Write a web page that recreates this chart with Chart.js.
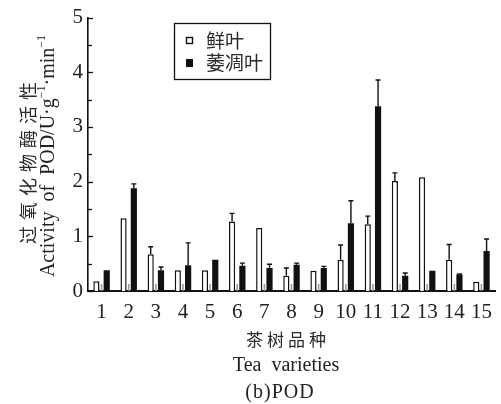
<!DOCTYPE html>
<html><head><meta charset="utf-8">
<script src="https://cdn.jsdelivr.net/npm/chart.js@4/dist/chart.umd.min.js"></script>
<style>html,body{margin:0;padding:0;background:#fff;} #wrap{width:501px;height:404px;position:relative;}</style>
</head><body><div id="wrap"><canvas id="c" width="501" height="404"></canvas></div>
<script>
// ---- data ----
const categories = ['1','2','3','4','5','6','7','8','9','10','11','12','13','14','15'];
const seriesNames = ['鲜叶', '萎凋叶'];
const freshLeaf    = [0.18,1.33,0.67,0.38,0.38,1.27,1.15,0.28,0.37,0.57,1.22,2.01,2.08,0.57,0.17];
const freshErr     = [0,   0,   0.14,0,   0,   0.15,0,   0.14,0,   0.27,0.15,0.15,0,   0.28,0   ];
const witheredLeaf = [0.38,1.88,0.38,0.47,0.57,0.46,0.42,0.48,0.42,1.24,3.38,0.28,0.37,0.30,0.73];
const witheredErr  = [0,   0.08,0.06,0.41,0,   0.05,0.07,0.03,0.03,0.41,0.48,0.05,0,   0.01,0.22];
const yTicks = [0,1,2,3,4,5];
const yMinorStep = 0.5;
const xTitleCn = '茶树品种';
const xTitleEn = 'Tea  varieties';
const caption = '(b)POD';
const yTitleCn = '过氧化物酶活性';

const errors = [freshErr, witheredErr];
const SERIF = '"Liberation Serif", "Times New Roman", serif';
const CJK = '"Noto Sans CJK SC", sans-serif';

const decor = {
  id: 'decor',
  afterDatasetsDraw(chart) {
    const ctx = chart.ctx, y = chart.scales.y, area = chart.chartArea;
    ctx.save();
    // small gray stubs between pairs
    const m0 = chart.getDatasetMeta(0), m1 = chart.getDatasetMeta(1);
    ctx.strokeStyle = '#9a9a9a'; ctx.lineWidth = 1.6;
    m0.data.forEach((b, i) => {
      const xc = (b.x + m1.data[i].x) / 2;
      ctx.beginPath(); ctx.moveTo(xc, area.bottom); ctx.lineTo(xc, area.bottom - 7); ctx.stroke();
    });
    // error bars
    ctx.strokeStyle = '#111'; ctx.lineWidth = 1.4;
    chart.data.datasets.forEach((ds, di) => {
      const meta = chart.getDatasetMeta(di);
      meta.data.forEach((b, i) => {
        const e = errors[di][i];
        if (!e) return;
        const top = y.getPixelForValue(ds.data[i] + e);
        ctx.beginPath();
        ctx.moveTo(b.x, b.y); ctx.lineTo(b.x, top);
        ctx.moveTo(b.x - 2.5, top); ctx.lineTo(b.x + 2.5, top);
        ctx.stroke();
      });
    });
    // inward ticks on y axis
    ctx.strokeStyle = '#111'; ctx.lineWidth = 1.3;
    for (let v = yTicks[0]; v <= yTicks[yTicks.length-1] + 1e-9; v += yMinorStep) {
      const py = Math.round(y.getPixelForValue(v)) + 0.5;
      const major = Math.abs(v - Math.round(v)) < 1e-9;
      ctx.beginPath(); ctx.moveTo(area.left, py); ctx.lineTo(area.left + (major ? 5 : 4), py); ctx.stroke();
    }
    ctx.restore();
  },
  afterDraw(chart) {
    const ctx = chart.ctx;
    ctx.save();
    // legend
    ctx.strokeStyle = '#111'; ctx.lineWidth = 1.3;
    ctx.strokeRect(174.5, 23.5, 96, 56);
    const ds = chart.data.datasets;
    ctx.lineWidth = 1.4;
    ctx.fillStyle = '#fff'; ctx.fillRect(186.5, 37.5, 6, 6); ctx.strokeRect(186.5, 37.5, 6, 6);
    ctx.fillStyle = '#111'; ctx.fillRect(186, 59, 7, 8);
    ctx.fillStyle = '#2a2a2a'; ctx.font = '19px ' + CJK; ctx.textBaseline = 'middle'; ctx.textAlign = 'left';
    ctx.fillText(ds[0].label, 206, 41);
    ctx.fillText(ds[1].label, 206, 63);
    // x titles
    ctx.textAlign = 'center';
    ctx.font = '17px ' + CJK; ctx.letterSpacing = '4px';
    ctx.fillText(xTitleCn, 288, 340);
    ctx.letterSpacing = '0px';
    ctx.fillStyle = '#222';
    ctx.font = '20px ' + SERIF;
    ctx.fillText(xTitleEn, 286, 366);
    ctx.letterSpacing = '1px';
    ctx.fillText(caption, 280, 393);
    ctx.letterSpacing = '0px';
    // y title chinese
    ctx.save();
    ctx.translate(28, 163); ctx.rotate(-Math.PI/2);
    ctx.fillStyle = '#2a2a2a'; ctx.font = '18px ' + CJK; ctx.letterSpacing = '6px';
    ctx.fillText(yTitleCn, 3, 0);
    ctx.restore();
    // y title english with superscripts
    ctx.save();
    ctx.translate(49, 156); ctx.rotate(-Math.PI/2);
    ctx.fillStyle = '#222'; ctx.textAlign = 'left'; ctx.textBaseline = 'middle'; ctx.letterSpacing = '0px';
    const parts = [['Activity  of  POD/U·g', false], ['−1', true], ['·min', false], ['−1', true]];
    const fMain = '20px ' + SERIF, fSup = '12px ' + SERIF;
    let total = 0;
    parts.forEach(p => { ctx.font = p[1] ? fSup : fMain; total += ctx.measureText(p[0]).width; });
    let x = -total / 2;
    parts.forEach(p => {
      ctx.font = p[1] ? fSup : fMain;
      ctx.fillText(p[0], x, p[1] ? -7 : 0);
      x += ctx.measureText(p[0]).width;
    });
    ctx.restore();
    ctx.restore();
  }
};

new Chart(document.getElementById('c'), {
  type: 'bar',
  data: {
    labels: categories,
    datasets: [
      { label: seriesNames[0], data: freshLeaf, backgroundColor: '#fff', borderColor: '#111', borderWidth: 1.5, borderSkipped: 'bottom' },
      { label: seriesNames[1], data: witheredLeaf, backgroundColor: '#111', borderColor: '#111', borderWidth: 0 }
    ]
  },
  options: {
    responsive: false, animation: false, devicePixelRatio: 1,
    layout: { padding: { left: 0, top: 16, right: 2, bottom: 0 } },
    datasets: { bar: { categoryPercentage: 0.76, barPercentage: 0.6 } },
    plugins: { legend: { display: false }, tooltip: { enabled: false } },
    scales: {
      x: {
        grid: { display: false, drawTicks: false },
        border: { display: true, color: '#111', width: 2 },
        ticks: { color: '#222', font: { family: SERIF, size: 21 }, padding: 9, maxRotation: 0, autoSkip: false },
        afterFit(s) { s.height = 113; }
      },
      y: {
        min: yTicks[0], max: yTicks[yTicks.length-1],
        grid: { display: false, drawTicks: false },
        border: { display: true, color: '#111', width: 1.6 },
        ticks: { stepSize: 1, color: '#222', font: { family: SERIF, size: 21 }, padding: 5,
                 callback: (v) => yTicks.includes(v) ? String(v) : '' },
        afterFit(s) { s.width = 88; }
      }
    }
  },
  plugins: [decor]
});
</script>
</body></html>
